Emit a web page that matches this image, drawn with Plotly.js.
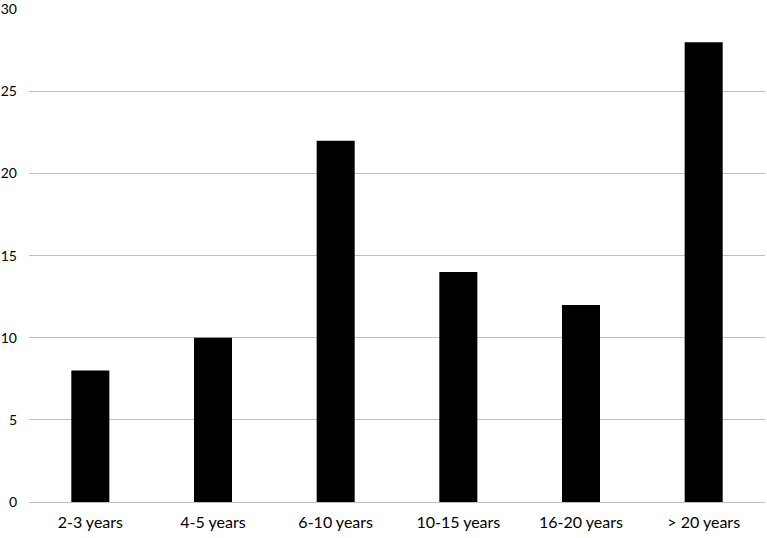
<!DOCTYPE html>
<html>
<head>
<meta charset="utf-8">
<script src="https://cdn.plot.ly/plotly-3.0.1.min.js"></script>
<style>
  html, body { margin: 0; padding: 0; background: #fff; }
  #graph { width: 767px; height: 538px; }
</style>
</head>
<body>
<div id="graph"></div>
<script>
var categories = ['2-3 years', '4-5 years', '6-10 years', '10-15 years', '16-20 years', '> 20 years'];
var counts = [8, 10, 22, 14, 12, 28];
var yTicks = [0, 5, 10, 15, 20, 25, 30];

var trace = {
  type: 'bar',
  x: categories,
  y: counts,
  marker: { color: '#000000' },
  hoverinfo: 'x+y'
};

var layout = {
  width: 767,
  height: 538,
  margin: { l: 29, r: 2, t: 9, b: 36 },
  paper_bgcolor: '#ffffff',
  plot_bgcolor: '#ffffff',
  bargap: 0.69,
  showlegend: false,
  font: { family: 'Lato, "Open Sans", sans-serif', color: '#000000' },
  xaxis: {
    type: 'category',
    showgrid: false,
    showline: false,
    zeroline: false,
    ticks: '',
    tickfont: { size: 16 },
    ticklabelstandoff: 9
  },
  yaxis: {
    range: [0, 30.02],
    tickvals: yTicks,
    showgrid: true,
    gridcolor: '#bfbfbf',
    gridwidth: 1,
    zeroline: true,
    zerolinecolor: '#bfbfbf',
    zerolinewidth: 1,
    showline: false,
    ticks: '',
    tickfont: { size: 14 },
    ticklabelstandoff: 11,
    ticklabeloverflow: 'allow'
  }
};

Plotly.newPlot('graph', [trace], layout, { displayModeBar: false, staticPlot: true });
</script>
</body>
</html>
